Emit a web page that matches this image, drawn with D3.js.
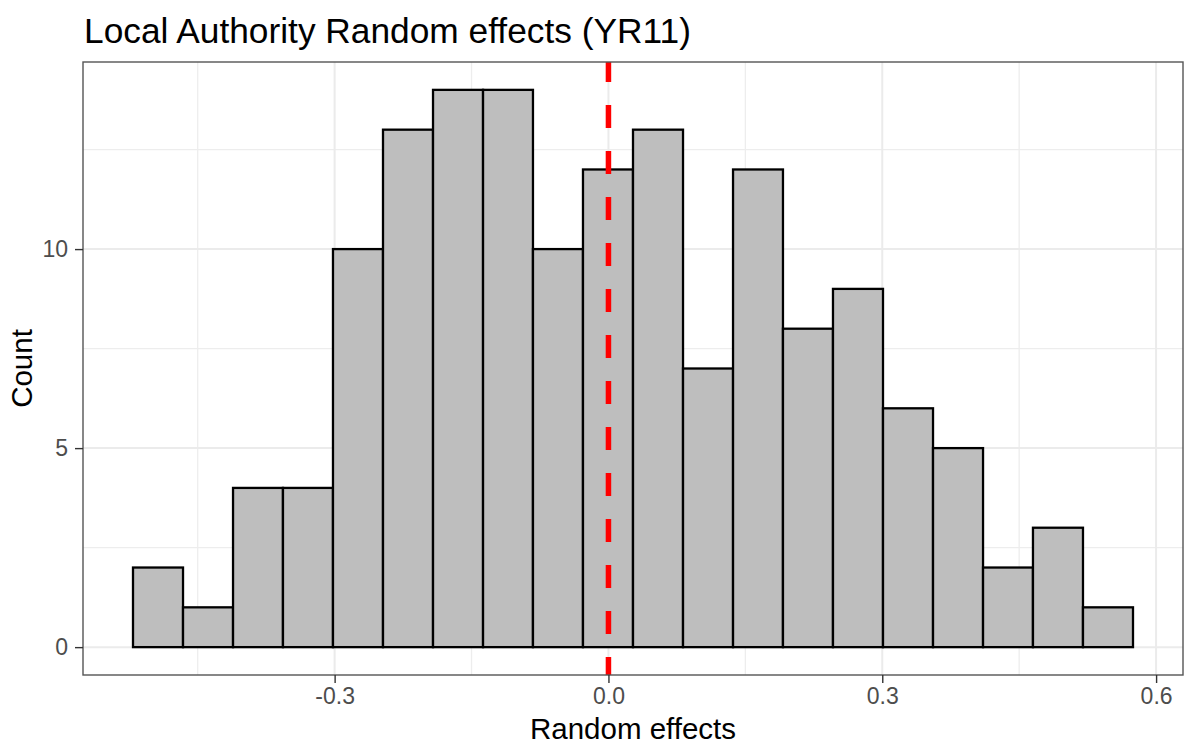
<!DOCTYPE html>
<html lang="en">
<head>
<meta charset="utf-8">
<title>Local Authority Random effects (YR11)</title>
<script src="https://d3js.org/d3.v7.min.js"></script>
<style>
  body { margin: 0; background: #fff; }
  text { font-family: "Liberation Sans", Arial, Helvetica, sans-serif; }
</style>
</head>
<body>
<script>
// histogram bins (edges) and counts
var binEdges = [-0.5209, -0.4661, -0.4113, -0.3566, -0.3018, -0.2470, -0.1922, -0.1374,
                -0.0827, -0.0279, 0.0269, 0.0817, 0.1365, 0.1912, 0.2460, 0.3008,
                0.3556, 0.4104, 0.4651, 0.5199, 0.5747];
var counts = [2, 1, 4, 4, 10, 13, 14, 14, 10, 12, 13, 7, 12, 8, 9, 6, 5, 2, 3, 1];
var xTicks = [-0.3, 0, 0.3, 0.6];
var xMinor = [-0.45, -0.15, 0.15, 0.45];
var yTicks = [0, 5, 10];
var yMinor = [2.5, 7.5, 12.5];
var refLine = 0;

var width = 1189, height = 754;
// panel box
var pL = 83, pR = 1183, pT = 62, pB = 675;

var svg = d3.select("body").append("svg")
    .attr("width", width)
    .attr("height", height);

// ggplot style 5% expansion
var xlo = d3.min(binEdges), xhi = d3.max(binEdges);
var xpad = (xhi - xlo) * 0.05;
var x = d3.scaleLinear().domain([xlo - xpad, xhi + xpad]).range([pL, pR]);
var ymax = d3.max(counts);
var y = d3.scaleLinear().domain([-ymax * 0.05, ymax * 1.05]).range([pB, pT]);

var bins = counts.map(function(c, i) {
    return {x0: binEdges[i], x1: binEdges[i + 1], n: c};
});

// grid
svg.append("g").selectAll("line").data(xMinor).enter().append("line")
    .attr("x1", d => x(d)).attr("x2", d => x(d))
    .attr("y1", pT).attr("y2", pB)
    .attr("stroke", "#ededed").attr("stroke-width", 1.3);
svg.append("g").selectAll("line").data(yMinor).enter().append("line")
    .attr("x1", pL).attr("x2", pR)
    .attr("y1", d => y(d)).attr("y2", d => y(d))
    .attr("stroke", "#ededed").attr("stroke-width", 1.3);
svg.append("g").selectAll("line").data(xTicks).enter().append("line")
    .attr("x1", d => x(d)).attr("x2", d => x(d))
    .attr("y1", pT).attr("y2", pB)
    .attr("stroke", "#ebebeb").attr("stroke-width", 2);
svg.append("g").selectAll("line").data(yTicks).enter().append("line")
    .attr("x1", pL).attr("x2", pR)
    .attr("y1", d => y(d)).attr("y2", d => y(d))
    .attr("stroke", "#ebebeb").attr("stroke-width", 2);

// bars
svg.append("g").selectAll("rect").data(bins).enter().append("rect")
    .attr("x", d => x(d.x0))
    .attr("width", d => x(d.x1) - x(d.x0))
    .attr("y", d => y(d.n))
    .attr("height", d => y(0) - y(d.n))
    .attr("fill", "#bebebe")
    .attr("stroke", "#000")
    .attr("stroke-width", 2.3);

// dashed reference line
svg.append("line")
    .attr("x1", x(refLine)).attr("x2", x(refLine))
    .attr("y1", pT).attr("y2", pB)
    .attr("stroke", "#ff0000")
    .attr("stroke-width", 5.5)
    .attr("stroke-dasharray", "23,23")
    .attr("stroke-dashoffset", 3);

// panel border
svg.append("rect")
    .attr("x", pL).attr("y", pT)
    .attr("width", pR - pL).attr("height", pB - pT)
    .attr("fill", "none")
    .attr("stroke", "#555")
    .attr("stroke-width", 1.4);

// x axis
var xAxis = d3.axisBottom(x).tickValues(xTicks).tickSize(8).tickPadding(5)
    .tickFormat(d3.format(".1f"));
var gx = svg.append("g").attr("transform", "translate(0," + pB + ")").call(xAxis);
gx.select(".domain").remove();
gx.selectAll(".tick line").attr("stroke", "#333").attr("stroke-width", 1.4);
gx.selectAll(".tick text").attr("fill", "#4d4d4d").style("font-size", "23px")
    .text(d => d3.format(".1f")(d).replace("−", "-"));

// y axis
var yAxis = d3.axisLeft(y).tickValues(yTicks).tickSize(8).tickPadding(7);
var gy = svg.append("g").attr("transform", "translate(" + pL + ",0)").call(yAxis);
gy.select(".domain").remove();
gy.selectAll(".tick line").attr("stroke", "#333").attr("stroke-width", 1.4);
gy.selectAll(".tick text").attr("fill", "#4d4d4d").style("font-size", "23px");

// titles
svg.append("text")
    .attr("x", 84).attr("y", 43)
    .style("font-size", "35.3px")
    .attr("fill", "#000")
    .text("Local Authority Random effects (YR11)");

svg.append("text")
    .attr("x", (pL + pR) / 2).attr("y", 739)
    .attr("text-anchor", "middle")
    .style("font-size", "29.5px")
    .text("Random effects");

svg.append("text")
    .attr("transform", "translate(32," + (pT + pB) / 2 + ") rotate(-90)")
    .attr("text-anchor", "middle")
    .style("font-size", "29.5px")
    .text("Count");
</script>
</body>
</html>
